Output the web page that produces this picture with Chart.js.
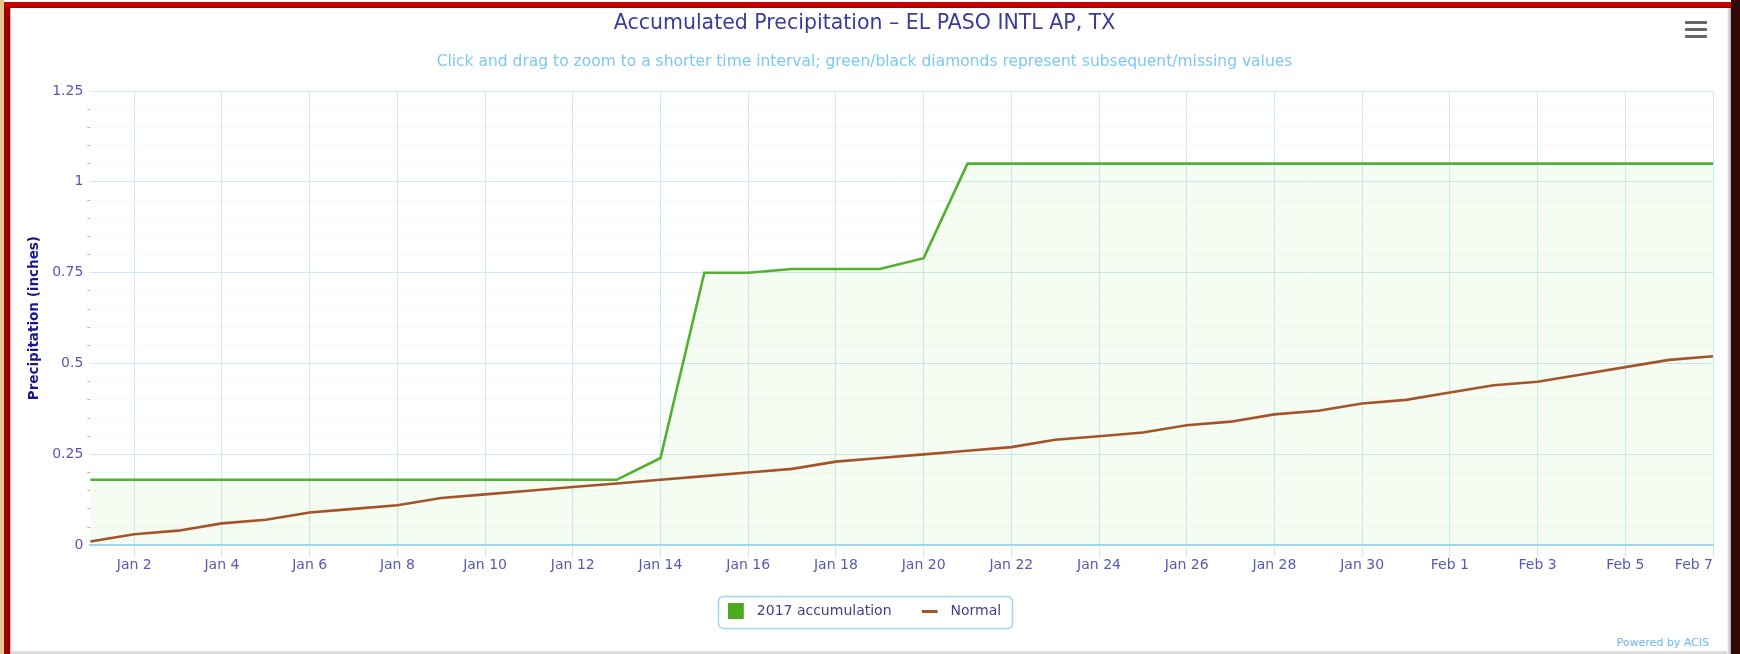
<!DOCTYPE html>
<html><head><meta charset="utf-8">
<script src="https://cdn.jsdelivr.net/npm/chart.js@4.4.1/dist/chart.umd.min.js"></script>
<style>
html,body{margin:0;padding:0;width:1740px;height:654px;overflow:hidden;background:#fff;}
.f{position:absolute;}
#wrap{position:absolute;left:10px;top:8px;width:1710px;height:643px;}
#credits{position:absolute;right:31px;top:636px;font:11px "DejaVu Sans";color:#70b8ee;white-space:nowrap;}
.bar{position:absolute;left:1685px;width:22px;height:3px;background:#666;border-radius:1px;}
</style></head><body>
<div class="f" style="left:0;top:0;width:4px;height:654px;background:#e5c790"></div>
<div class="f" style="left:4px;top:2px;width:6px;height:652px;background:#9a0000"></div>
<div class="f" style="left:10px;top:8px;width:1px;height:646px;background:#e8b0b0"></div>
<div class="f" style="left:4px;top:2px;width:1729px;height:6px;background:#c60000"></div>
<div class="f" style="left:4px;top:7px;width:1729px;height:1px;background:#a00000"></div>
<div class="f" style="left:1727px;top:8px;width:4px;height:646px;background:linear-gradient(to right,#fff,#aaa)"></div>
<div class="f" style="left:1731px;top:0;width:9px;height:654px;background:#350808"></div>
<div class="f" style="left:11px;top:651px;width:1716px;height:3px;background:#dcdcdc"></div>
<div class="bar" style="top:21px"></div>
<div class="bar" style="top:28px"></div>
<div class="bar" style="top:35px"></div>
<div id="credits">Powered by ACIS</div>
<div id="wrap"><canvas id="c"></canvas></div>
<script>
const dayLabels = ['Jan 1','Jan 2','Jan 3','Jan 4','Jan 5','Jan 6','Jan 7','Jan 8','Jan 9','Jan 10',
  'Jan 11','Jan 12','Jan 13','Jan 14','Jan 15','Jan 16','Jan 17','Jan 18','Jan 19','Jan 20',
  'Jan 21','Jan 22','Jan 23','Jan 24','Jan 25','Jan 26','Jan 27','Jan 28','Jan 29','Jan 30',
  'Jan 31','Feb 1','Feb 2','Feb 3','Feb 4','Feb 5','Feb 6','Feb 7'];
const accum2017 = [0.18,0.18,0.18,0.18,0.18,0.18,0.18,0.18,0.18,0.18,
  0.18,0.18,0.18,0.24,0.75,0.75,0.76,0.76,0.76,0.79,
  1.05,1.05,1.05,1.05,1.05,1.05,1.05,1.05,1.05,1.05,
  1.05,1.05,1.05,1.05,1.05,1.05,1.05,1.05];
const normal = [0.01,0.03,0.04,0.06,0.07,0.09,0.10,0.11,0.13,0.14,
  0.15,0.16,0.17,0.18,0.19,0.20,0.21,0.23,0.24,0.25,
  0.26,0.27,0.29,0.30,0.31,0.33,0.34,0.36,0.37,0.39,
  0.40,0.42,0.44,0.45,0.47,0.49,0.51,0.52];
const yTicks = [0, 0.25, 0.5, 0.75, 1, 1.25];
const yMinorStep = 0.05;
const seriesNames = ['2017 accumulation', 'Normal'];
const titleText = 'Accumulated Precipitation – EL PASO INTL AP, TX';
const subtitleText = 'Click and drag to zoom to a shorter time interval; green/black diamonds represent subsequent/missing values';
const yTitle = 'Precipitation (inches)';

const FONT = 'DejaVu Sans';
const greenLine = '#52b12f';
const greenLegend = '#4aab1f';
const brown = '#a5532b';
const labelColor = '#5858b8';

function symbol(kind){
  const c = document.createElement('canvas');
  c.width = 22; c.height = 16;
  const g = c.getContext('2d');
  if (kind === 'square') { g.fillStyle = greenLegend; g.fillRect(0,0,16,16); }
  else { g.fillStyle = brown; g.fillRect(0,7,16,3); }
  return c;
}
const symbols = [symbol('square'), symbol('line')];

const isMajor = v => Math.abs(v/0.25 - Math.round(v/0.25)) < 1e-6;

const legendBox = {
  id: 'legendBox',
  afterDraw(chart){
    const lg = chart.legend;
    if (!lg || !lg.legendHitBoxes || !lg.legendHitBoxes.length) return;
    const hb = lg.legendHitBoxes;
    const l = Math.min(...hb.map(h=>h.left)) - 10;
    const r = Math.max(...hb.map(h=>h.left+h.width)) + 11;
    const t = Math.min(...hb.map(h=>h.top)) - 8;
    const b = Math.max(...hb.map(h=>h.top+h.height)) + 10;
    const ctx = chart.ctx;
    ctx.save();
    ctx.strokeStyle = '#9ad8f5';
    ctx.lineWidth = 1.5;
    ctx.beginPath();
    ctx.roundRect(Math.round(l)+0.5, Math.round(t)+0.5, Math.round(r-l), Math.round(b-t), 5);
    ctx.stroke();
    ctx.restore();
  }
};

new Chart(document.getElementById('c'), {
  type: 'line',
  data: {
    labels: dayLabels,
    datasets: [
      { label: seriesNames[0], data: accum2017, borderColor: greenLine, borderWidth: 2.6,
        backgroundColor: 'rgba(130,215,80,0.08)', fill: 'origin', pointRadius: 0, tension: 0, order: 1 },
      { label: seriesNames[1], data: normal, borderColor: brown, borderWidth: 2.6,
        backgroundColor: brown, fill: false, pointRadius: 0, tension: 0, order: 0 }
    ]
  },
  options: {
    responsive: true, maintainAspectRatio: false, animation: false,
    layout: { padding: { left: 6, right: 7, top: 0, bottom: 23 } },
    plugins: {
      tooltip: { enabled: false },
      title: { display: true, text: titleText, color: '#3b3b9b',
        font: { family: FONT, size: 20.5, weight: 'normal' }, padding: { top: 3.5, bottom: 12.5 } },
      subtitle: { display: true, text: subtitleText, color: '#7cc8f5',
        font: { family: FONT, size: 15.5, weight: 'normal' }, padding: { top: 3.6, bottom: 20.2 } },
      legend: {
        position: 'bottom',
        labels: {
          usePointStyle: true, pointStyleWidth: 22, boxHeight: 14,
          color: '#433d90', font: { family: FONT, size: 14 }, padding: 30,
          sort: (a,b) => a.datasetIndex - b.datasetIndex,
          generateLabels: chart => chart.data.datasets.map((ds,i) => ({
            text: ds.label, fillStyle: i===0?greenLegend:brown, strokeStyle: 'rgba(0,0,0,0)',
            lineWidth: 0, pointStyle: symbols[i], datasetIndex: i, hidden: false, fontColor: '#433d90'
          }))
        }
      }
    },
    scales: {
      x: {
        type: 'category', offset: false,
        grid: {
          color: c => (c.index % 2 === 1 ? '#c8ebf3' : 'rgba(0,0,0,0)'),
          tickColor: c => (c.index % 2 === 1 ? '#c8ebf3' : 'rgba(0,0,0,0)'),
          tickLength: 12, lineWidth: 1
        },
        border: { color: '#9fd8f0', width: 2 },
        ticks: {
          autoSkip: false, maxRotation: 0, align: 'inner', padding: 0,
          color: labelColor, font: { family: FONT, size: 14 },
          callback: (v, i) => (i % 2 === 1 ? dayLabels[i] : '')
        }
      },
      y: {
        position: 'left', weight: 1,
        min: yTicks[0], max: yTicks[yTicks.length-1],
        ticks: { stepSize: yTicks[1]-yTicks[0], padding: 4, color: labelColor,
          font: { family: FONT, size: 14 }, callback: v => String(Number(v.toFixed(2))) },
        grid: { color: '#cfe7f7', drawTicks: false, lineWidth: 1 },
        border: { display: false },
        title: { display: true, text: yTitle, color: '#18188a',
          font: { family: FONT, size: 13.5, weight: 'bold' }, padding: { top: 10, bottom: 6 } }
      },
      yMinor: {
        position: 'left', weight: 0,
        min: yTicks[0], max: yTicks[yTicks.length-1],
        ticks: { stepSize: yMinorStep, display: false, autoSkip: false },
        grid: {
          color: c => (isMajor(c.tick.value) ? 'rgba(0,0,0,0)' : '#e8e8e8'),
          tickColor: c => (isMajor(c.tick.value) ? 'rgba(0,0,0,0)' : '#bbbbbb'),
          tickLength: 3, lineWidth: 1
        },
        border: { display: false, dash: [1, 3] }
      }
    }
  },
  plugins: [legendBox]
});
</script>
</body></html>
